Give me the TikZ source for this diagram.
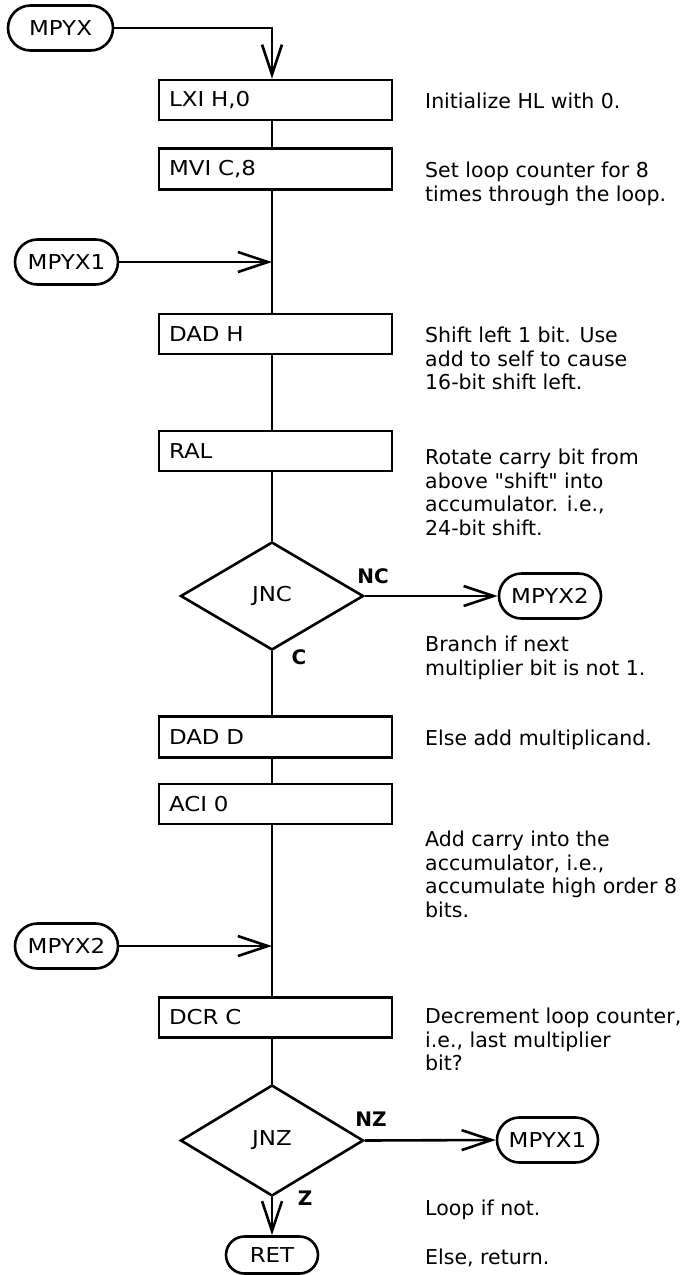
\documentclass[tikz,border=0pt]{standalone}
\usepackage{fontspec}
\setmainfont{DejaVu Sans}[Ligatures=TeXOff]
\newfontfamily\lblfont{DejaVu Sans}[FakeStretch=1.12,Ligatures=TeXOff]
\usetikzlibrary{arrows.meta,shapes.geometric,shapes.misc}
\tikzset{
  ln/.style={line width=2.6pt},
  arr/.style={ln,-{Straight Barb[length=30pt,width=20pt,line width=2.6pt]}},
  opbox/.style={draw,ln,rectangle,text width=213pt,inner xsep=10pt,inner ysep=0pt,
    minimum height=40pt,align=left,font=\lblfont\fontsize{20.5}{23.5}\selectfont},
  term/.style={draw,ln,rounded rectangle,inner sep=0pt,minimum height=45pt,
    font=\lblfont\fontsize{20.5}{23.5}\selectfont},
  dec/.style={draw,ln,diamond,inner sep=0pt,minimum width=183pt,minimum height=108pt,
    font=\lblfont\fontsize{20.5}{23.5}\selectfont},
  cmt/.style={anchor=north west,inner sep=0pt,align=left,
    font=\fontsize{20.5}{23.5}\selectfont},
  flag/.style={inner sep=0pt,font=\bfseries\fontsize{20}{22}\selectfont}
}
\begin{document}
\begin{tikzpicture}[x=1pt,y=-1pt]
\useasboundingbox (0,0) rectangle (686,1275);
\coordinate (m) at (272,0);
% terminals
\node[term,minimum width=105pt] (mpyx) at (60.5,28) {MPYX};
\node[term,minimum width=103pt] (mpyx1l) at (66.5,262) {MPYX1};
\node[term,minimum width=102pt] (mpyx2r) at (550,596) {MPYX2};
\node[term,minimum width=103pt] (mpyx2l) at (66.5,946) {MPYX2};
\node[term,minimum width=101pt] (mpyx1r) at (547.5,1140) {MPYX1};
\node[term,minimum width=92pt,minimum height=37pt] (ret) at (272,1255) {RET};
% operation boxes
\node[opbox] (lxi) at (275.5,100) {LXI H,0};
\node[opbox,minimum height=41pt] (mvi) at (275.5,169) {MVI C,8};
\node[opbox] (dadh) at (275.5,334) {DAD H};
\node[opbox] (ral) at (275.5,451) {RAL};
\node[opbox,minimum height=41pt] (dadd) at (275.5,737) {DAD D};
\node[opbox] (aci) at (275.5,804) {ACI 0};
\node[opbox] (dcr) at (275.5,1017.5) {DCR C};
% decisions
\node[dec] (jnc) at (272,596) {JNC};
\node[dec,minimum height=111pt] (jnz) at (272,1140.5) {JNZ};
% flags
\node[flag] (nc) at (373,576) {NC};
\node[flag] (c) at (299,657) {C};
\node[flag] (nz) at (371,1119) {NZ};
\node[flag] (z) at (305,1198) {Z};
% connectors
\draw[arr] (mpyx.east) -- (mpyx.east -| m) -- (lxi.north -| m);
\draw[ln] (lxi.south -| m) -- (mvi.north -| m);
\draw[ln] (mvi.south -| m) -- (dadh.north -| m);
\draw[arr] (mpyx1l.east) -- (mpyx1l.east -| m);
\draw[ln] (dadh.south -| m) -- (ral.north -| m);
\draw[ln] (ral.south -| m) -- (jnc.north);
\draw[arr] (jnc.east) -- (mpyx2r.west);
\draw[ln] (jnc.south) -- (dadd.north -| m);
\draw[ln] (dadd.south -| m) -- (aci.north -| m);
\draw[ln] (aci.south -| m) -- (dcr.north -| m);
\draw[arr] (mpyx2l.east) -- (mpyx2l.east -| m);
\draw[ln] (dcr.south -| m) -- (jnz.north);
\draw[arr] (jnz.east) -- (mpyx1r.west);
\draw[arr] (jnz.south) -- (ret.north);
% comments
\node[cmt] (c1) at (425,93) {Initialize HL with 0.};
\node[cmt] (c2) at (425,162) {Set loop counter for 8\\times through the loop.};
\node[cmt] (c3) at (425,327) {Shift left 1 bit. Use\\add to self to cause\\16-bit shift left.};
\node[cmt] (c4) at (425,449) {Rotate carry bit from\\above "shift" into\\accumulator. i.e.,\\24-bit shift.};
\node[cmt] (c5) at (425,636) {Branch if next\\multiplier bit is not 1.};
\node[cmt] (c6) at (425,730) {Else add multiplicand.};
\node[cmt] (c7) at (425,831) {Add carry into the\\accumulator, i.e.,\\accumulate high order 8\\bits.};
\node[cmt] (c8) at (425,1008) {Decrement loop counter,\\i.e., last multiplier\\bit?};
\node[cmt] (c9) at (425,1200) {Loop if not.};
\node[cmt] (c10) at (425,1249) {Else, return.};
\end{tikzpicture}
\end{document}
